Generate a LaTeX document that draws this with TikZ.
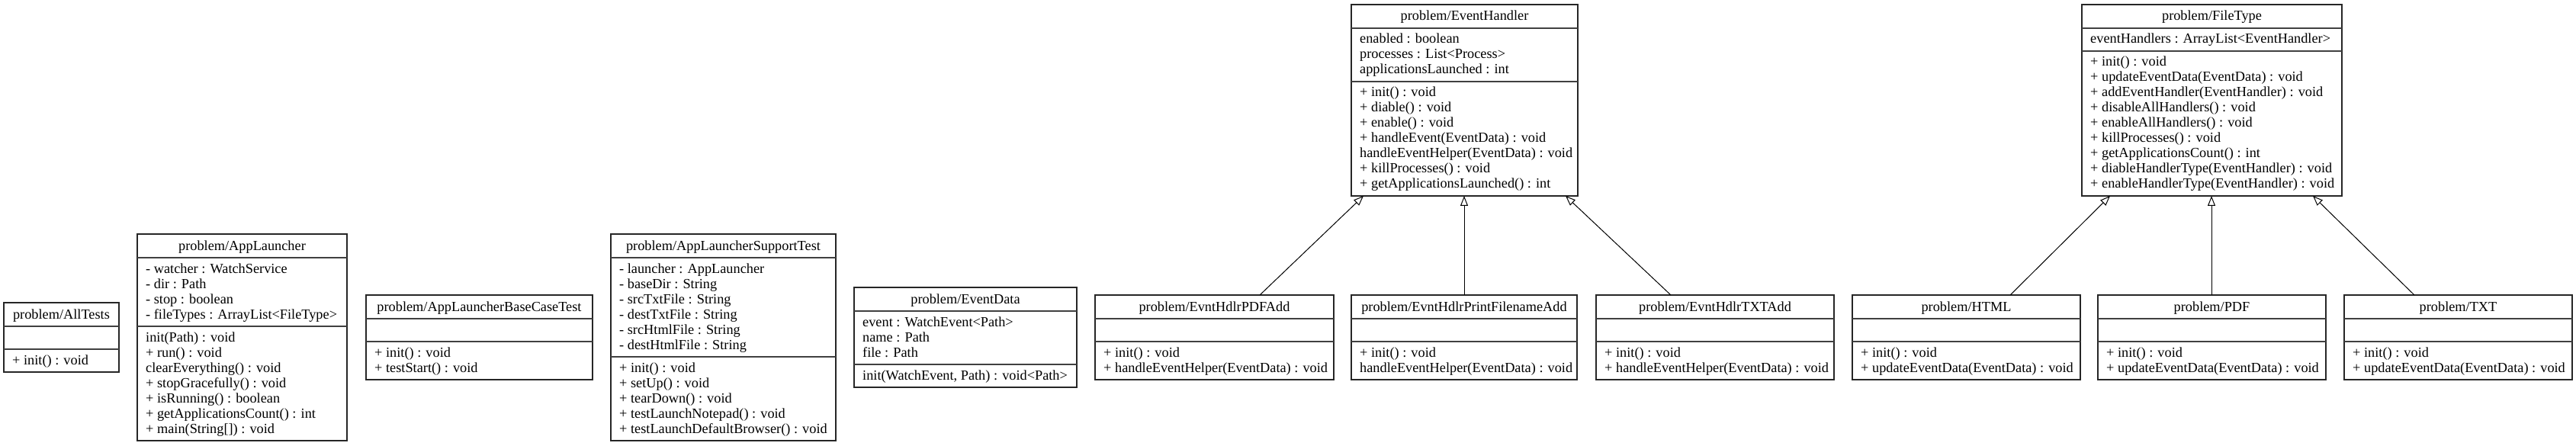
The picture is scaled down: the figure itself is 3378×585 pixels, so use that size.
\documentclass[tikz,border=0pt]{standalone}
\usepackage{fontspec}
\setmainfont{Liberation Serif}
\usetikzlibrary{arrows.meta}
\tikzset{
  classbox/.style={draw=black!85, line width=1.3pt, rectangle, inner sep=0pt, outer sep=0pt, anchor=north west},
  sepline/.style={draw=black!75, line width=1.3pt},
  classtext/.style={inner sep=0pt, font=\fontsize{18.3pt}{20pt}\selectfont},
  inherit/.style={draw=black, line width=1pt, -{Triangle[open, length=13pt, width=10pt, fill=white]}}
}
% #1 id, #2 x left, #3 x right, #4 y top, #5 title, #6 attr lines, #7 attrs, #8 method lines, #9 methods
\newcommand{\umlclass}[9]{%
  \pgfmathsetmacro\umlya{#4+31}%
  \pgfmathsetmacro\umlym{\umlya+10+20*max(#6,1)}%
  \pgfmathsetmacro\umlyb{\umlym+10+20*max(#8,1)}%
  \pgfmathsetmacro\umlw{#3-#2}%
  \pgfmathsetmacro\umlh{\umlyb-#4}%
  \node[classbox, minimum width=\umlw pt, minimum height=\umlh pt] (#1) at (#2,#4) {};
  \draw[sepline] (#2,\umlya) -- (#3,\umlya);
  \draw[sepline] (#2,\umlym) -- (#3,\umlym);
  \node[classtext, anchor=base] (#1-t) at ({(#2+#3)/2}, #4+21) {#5};
  \if\relax\detokenize{#7}\relax\else
    \foreach \umlt [count=\umli from 0] in {#7}
      \node[classtext, anchor=base west] (#1-a\umli) at (#2+11, \umlya+20+20*\umli) {\umlt};
  \fi
  \if\relax\detokenize{#9}\relax\else
    \foreach \umlt [count=\umli from 0] in {#9}
      \node[classtext, anchor=base west] (#1-m\umli) at (#2+11, \umlym+20+20*\umli) {\umlt};
  \fi
}
\begin{document}
\begin{tikzpicture}[x=1pt, y=-1pt]
\useasboundingbox[fill=white] (0,0) rectangle (3378,585);

\umlclass{AllTests}{5}{156}{397}{problem/AllTests}{0}{}{1}{{+ init() : void}}

\umlclass{AppLauncher}{180}{455}{307}{problem/AppLauncher}{4}%
  {{- watcher : WatchService},{- dir : Path},{- stop : boolean},{- fileTypes : ArrayList<FileType>}}%
  {7}{{init(Path) : void},{+ run() : void},{clearEverything() : void},{+ stopGracefully() : void},{+ isRunning() : boolean},{+ getApplicationsCount() : int},{+ main(String[]) : void}}

\umlclass{BaseCase}{480}{777}{387}{problem/AppLauncherBaseCaseTest}{0}{}%
  {2}{{+ init() : void},{+ testStart() : void}}

\umlclass{SupportTest}{801}{1096}{307}{problem/AppLauncherSupportTest}{6}%
  {{- launcher : AppLauncher},{- baseDir : String},{- srcTxtFile : String},{- destTxtFile : String},{- srcHtmlFile : String},{- destHtmlFile : String}}%
  {5}{{+ init() : void},{+ setUp() : void},{+ tearDown() : void},{+ testLaunchNotepad() : void},{+ testLaunchDefaultBrowser() : void}}

\umlclass{EventData}{1120}{1412}{377}{problem/EventData}{3}%
  {{event : WatchEvent<Path>},{name : Path},{file : Path}}%
  {1}{{init(WatchEvent, Path) : void<Path>}}

\umlclass{EventHandler}{1772}{2069}{6}{problem/EventHandler}{3}%
  {{enabled : boolean},{processes : List<Process>},{applicationsLaunched : int}}%
  {7}{{+ init() : void},{+ diable() : void},{+ enable() : void},{+ handleEvent(EventData) : void},{handleEventHelper(EventData) : void},{+ killProcesses() : void},{+ getApplicationsLaunched() : int}}

\umlclass{PDFAdd}{1436}{1749}{387}{problem/EvntHdlrPDFAdd}{0}{}%
  {2}{{+ init() : void},{+ handleEventHelper(EventData) : void}}

\umlclass{PrintAdd}{1772}{2068}{387}{problem/EvntHdlrPrintFilenameAdd}{0}{}%
  {2}{{+ init() : void},{handleEventHelper(EventData) : void}}

\umlclass{TXTAdd}{2093}{2405}{387}{problem/EvntHdlrTXTAdd}{0}{}%
  {2}{{+ init() : void},{+ handleEventHelper(EventData) : void}}

\umlclass{FileType}{2730}{3071}{6}{problem/FileType}{1}%
  {{eventHandlers : ArrayList<EventHandler>}}%
  {9}{{+ init() : void},{+ updateEventData(EventData) : void},{+ addEventHandler(EventHandler) : void},{+ disableAllHandlers() : void},{+ enableAllHandlers() : void},{+ killProcesses() : void},{+ getApplicationsCount() : int},{+ diableHandlerType(EventHandler) : void},{+ enableHandlerType(EventHandler) : void}}

\umlclass{HTML}{2429}{2728}{387}{problem/HTML}{0}{}%
  {2}{{+ init() : void},{+ updateEventData(EventData) : void}}

\umlclass{PDF}{2751}{3050}{387}{problem/PDF}{0}{}%
  {2}{{+ init() : void},{+ updateEventData(EventData) : void}}

\umlclass{TXT}{3074}{3373}{387}{problem/TXT}{0}{}%
  {2}{{+ init() : void},{+ updateEventData(EventData) : void}}

% inheritance connectors
\draw[inherit] ([xshift=216pt]PDFAdd.north west) -- ([xshift=16pt]EventHandler.south west);
\draw[inherit] ([xshift=148pt]PrintAdd.north west) -- ([xshift=148pt]EventHandler.south west);
\draw[inherit] ([xshift=98pt]TXTAdd.north west) -- ([xshift=281pt]EventHandler.south west);
\draw[inherit] ([xshift=207pt]HTML.north west) -- ([xshift=37pt]FileType.south west);
\draw[inherit] ([xshift=149pt]PDF.north west) -- ([xshift=170pt]FileType.south west);
\draw[inherit] ([xshift=92pt]TXT.north west) -- ([xshift=303pt]FileType.south west);
\end{tikzpicture}
\end{document}
